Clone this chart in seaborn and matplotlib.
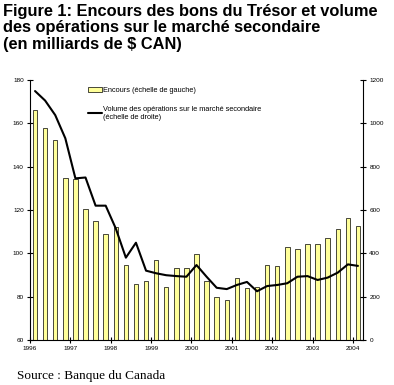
import numpy as np
import pandas as pd
import matplotlib
matplotlib.use("Agg")
import matplotlib.pyplot as plt
import seaborn as sns
from matplotlib.patches import Patch
from matplotlib.lines import Line2D

# ---- data (quarterly, 1996Q1 .. 2004Q1) ----
quarters = [f"{y}T{q}" for y in range(1996, 2005) for q in range(1, 5)][:33]
encours = [166, 158, 152.3, 135, 134.5, 120.3, 114.9, 108.9, 112, 94.5,
           85.7, 87.2, 96.9, 84.3, 93.2, 93.2, 99.7, 87.2, 79.7, 78.4,
           88.5, 83.8, 84.3, 94.5, 94.2, 102.8, 101.9, 104.3, 104.5, 107.3,
           111.4, 116.5, 112.5]
volume = [1149, 1105, 1038, 931, 746, 750, 620, 620, 515, 380,
          449, 320, 308, 299, 295, 292, 346, 292, 241, 235,
          254, 268, 225, 249, 254, 262, 292, 295, 277, 288,
          311, 349, 342]
year_labels = ["1996", "1997", "1998", "1999", "2000", "2001", "2002", "2003", "2004"]
left_ticks = [60, 80, 100, 120, 140, 160, 180]
right_ticks = [0, 200, 400, 600, 800, 1000, 1200]

title = ("Figure 1: Encours des bons du Trésor et volume\n"
         "des opérations sur le marché secondaire\n"
         "(en milliards de $ CAN)")
label_bars = "Encours (échelle de gauche)"
label_line = "Volume des opérations sur le marché secondaire\n(échelle de droite)"
source = "Source : Banque du Canada"

df = pd.DataFrame({"trimestre": quarters, "encours": encours, "volume": volume})
df["pos"] = np.arange(len(df))

sns.set_style("white")
plt.rcParams["font.family"] = ["Liberation Sans", "DejaVu Sans"]
plt.rcParams["text.color"] = "black"
plt.rcParams["axes.labelcolor"] = "black"
plt.rcParams["xtick.color"] = "black"
plt.rcParams["ytick.color"] = "black"

fig = plt.figure(figsize=(3.94, 3.85), dpi=100)
ax = fig.add_axes([30 / 394, 1 - 340 / 385, 333 / 394, 260 / 385])

sns.barplot(data=df, x="trimestre", y="encours", ax=ax, color="#FFFF99",
            saturation=1, width=0.45, edgecolor="black", linewidth=0.5)
ax.set_xlim(-0.5, len(df) - 0.5)
ax.set_ylim(60, 180)
ax.set_yticks(left_ticks)
ax.set_xticks(np.arange(0, 33, 4) - 0.5)
ax.set_xticklabels(year_labels)
ax.set_xlabel("")
ax.set_ylabel("")

ax2 = ax.twinx()
sns.lineplot(data=df, x="pos", y="volume", ax=ax2, color="black",
             linewidth=1.5, legend=False)
ax2.set_ylim(0, 1200)
ax2.set_yticks(right_ticks)
ax2.set_xlim(-0.5, len(df) - 0.5)
ax2.set_xlabel("")
ax2.set_ylabel("")

for a in (ax, ax2):
    for s in a.spines.values():
        s.set_color("black")
        s.set_linewidth(0.8)
    a.spines["top"].set_visible(False)
ax.spines["right"].set_visible(False)
ax2.spines["left"].set_visible(False)
ax2.spines["bottom"].set_visible(False)

ax.tick_params(axis="both", direction="inout", length=4, width=0.8,
               labelsize=4.6, pad=2.5, colors="black")
ax.tick_params(axis="y", left=True)
ax.tick_params(axis="x", bottom=True)
ax2.tick_params(axis="y", direction="inout", length=4, width=0.8,
                labelsize=4.6, pad=2.5, right=True, colors="black")

handles = [Patch(facecolor="#FFFF99", edgecolor="black", linewidth=0.5),
           Line2D([0], [0], color="black", linewidth=1.5)]
leg = ax.legend(handles, [label_bars, label_line], loc="upper left",
                bbox_to_anchor=(0.165, 0.985), frameon=False, fontsize=5.3,
                handlelength=1.9, handleheight=0.7, handletextpad=0.1,
                labelspacing=1.6, borderaxespad=0)
for t in leg.get_texts():
    t.set_color("black")

fig.text(3 / 394, 1 - 4 / 385, title, ha="left", va="top", fontsize=11.8,
         fontweight="bold", linespacing=1.12, color="black")
fig.text(17 / 394, 1 - 376 / 385, source, ha="left", va="center",
         fontsize=9.5, family=["Liberation Serif", "DejaVu Serif"],
         color="black")

fig.savefig("out.png", dpi=100)
